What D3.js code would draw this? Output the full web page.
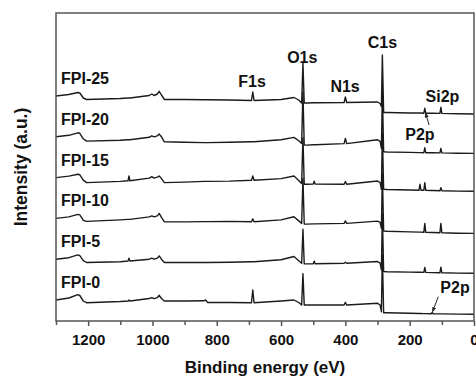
<!DOCTYPE html>
<html>
<head>
<meta charset="utf-8">
<script src="https://cdn.jsdelivr.net/npm/d3@7"></script>
<style>
  body { margin: 0; background: #fff; }
  svg { display: block; font-family: Arial, "Liberation Sans", sans-serif; }
</style>
</head>
<body>
<div id="chart"></div>
<script>
// binding energies (eV) shared by every spectrum
const energies = [1300, 1260, 1232, 1226, 1215, 1205, 1100, 1076, 1073, 1070,
  1010, 1002, 995, 985, 979, 972, 963, 900, 840, 835, 828, 760, 692, 688, 684,
  600, 560, 545, 536, 532, 528, 520, 500, 497, 494, 404, 400, 396, 300, 292,
  288, 285, 281, 270, 200, 171, 168, 165, 156, 153, 150, 133, 130, 127, 106,
  103, 100, 50, 0];

// intensities (a.u.) relative to each spectrum's own start, bottom to top
const sampleNames = ['FPI-0', 'FPI-5', 'FPI-10', 'FPI-15', 'FPI-20', 'FPI-25'];

const fpi0 = [0, 2, 5.3, 4.5, -1, -2.7, -1.5, -1, 0, -1,
  1.5, 2.3, 1.3, 2.3, 4.7, 1.5, -1, -1, -0.8, 0, -2.5, -2.5, -2.7, 10, -2.7,
  -1, 0, -2.5, -5, 26.4, -5, -5, -5, -5, -5, -5, -2.3, -5, -3.3, -5,
  -11.7, 45, -12.7, -12.8, -13.3, -13.5, -13.5, -13.5, -13.6, -13.6, -13.6, -13.7, -12.5, -13.7, -13.9,
  -13.9, -13.9, -14.1, -14.3];

const fpi5 = [0, 1.5, 4.3, 3.5, -1.5, -3.3, -2.5, -1.8, 1, -1.8,
  0, 1, 0, 1, 3.3, 0, -3.3, -3.3, -3.3, -3.3, -3.3, -3, -2.5, -2.5, -2.5,
  -0.5, 2.7, -1.5, -4, 30, -4.7, -4.7, -4.5, -2, -4.5, -4, -3, -4, -2.3, -4,
  -10.7, 45, -12.3, -12.5, -12.9, -13.1, -13.1, -13.1, -13.2, -8.3, -13.2, -13.4, -13.4, -13.4, -13.6,
  -8, -13.6, -13.9, -14];

const fpi10 = [0, 1.5, 4, 3.5, -2, -3, -1.5, -1, -1, -1,
  1.5, 2.5, 1.5, 2.5, 5, 1, -3.5, -3.5, -3.2, -3.2, -3.2, -3, -3.3, -0.5, -3.3,
  -1.5, 1.7, -2.5, -5, 40, -5.7, -5.7, -5.5, -5.5, -5.5, -5, -2.5, -5, -2.7, -4,
  -10, 45, -12.7, -12.9, -13.5, -13.7, -13.7, -13.7, -13.9, -5, -13.9, -14.1, -14.1, -14.1, -14.4,
  -5, -14.4, -14.8, -15];

const fpi15 = [0, 1.5, 3.3, 2.8, -2.5, -5, -3.8, -3.2, 1.6, -3.2,
  -0.5, 1, -0.5, 0.5, 1.6, -1, -5, -4.5, -3.8, -3.8, -3.8, -3.5, -2.7, 1.6, -2.7,
  -1, 1.6, -3, -6, 40, -6.7, -6.7, -6.5, -3.5, -6.5, -6.6, -4, -6.6, -3.4, -5,
  -11.7, 45, -11.7, -11.9, -12.4, -12.6, -6.7, -12.6, -12.7, -5, -12.7, -12.9, -12.9, -12.9, -13.2,
  -10, -13.2, -13.5, -13.7];

const fpi20 = [0, 1.5, 4, 3.5, -2, -4.3, -3.5, -3, -3, -3,
  -0.5, 1, 0, 1, 2.7, 0, -5, -5.5, -5.8, -5.8, -5.8, -5.5, -5, -5, -5,
  -3, -0.6, -4, -6.6, 45, -8.3, -8.3, -8, -8, -8, -6.8, -1.6, -6.8, -3, -4.5,
  -11.6, 45, -15, -15.2, -15.6, -15.8, -15.8, -15.8, -15.9, -11, -15.9, -16, -16, -16, -16.1,
  -11.6, -16.1, -16.4, -16.6];

const fpi25 = [0, 1.5, 3.5, 3, -2, -3.5, -2.5, -2, -2, -2,
  0.5, 2, 0.5, 2, 4.7, 1, -3.5, -3.5, -3.8, -3.8, -3.8, -4, -4.5, 4, -4.5,
  -3.5, -1.5, -4, -7, 33, -7, -7, -6.8, -6.8, -6.8, -6.5, -1, -6.5, -6, -7.5,
  -10.5, 41, -16.5, -16.5, -17, -17, -17, -17, -17.2, -12.3, -17.2, -17.3, -17.3, -17.3, -17.4,
  -11.3, -17.4, -17.8, -18];

const spectra = [fpi0, fpi5, fpi10, fpi15, fpi20, fpi25];

// peak annotations
const peakNames = ['C1s', 'O1s', 'F1s', 'N1s', 'Si2p', 'P2p', 'P2p'];
const peakEnergies = [285, 534, 690, 401, 98, 168, 59];

const xTicks = [1200, 1000, 800, 600, 400, 200, 0];
const xMinorTicks = [1300, 1100, 900, 700, 500, 300, 100];

const width = 476;
const height = 377;
const plot = { left: 56, right: 474, top: 13, bottom: 321 };
const stackBase = 21;
const stackStep = 40.8;

const x = d3.scaleLinear().domain([1300, 0]).range([plot.left, plot.right]);
const y = d3.scaleLinear().domain([0, 308]).range([plot.bottom, plot.top]);

const svg = d3.select('#chart')
  .append('svg')
  .attr('width', width)
  .attr('height', height);

svg.append('defs').append('clipPath')
  .attr('id', 'clip')
  .append('rect')
  .attr('x', plot.left)
  .attr('y', plot.top)
  .attr('width', plot.right - plot.left)
  .attr('height', plot.bottom - plot.top);

svg.select('defs').append('marker')
  .attr('id', 'arrow')
  .attr('viewBox', '0 0 10 10')
  .attr('refX', 9)
  .attr('refY', 5)
  .attr('markerWidth', 5)
  .attr('markerHeight', 5)
  .attr('orient', 'auto')
  .append('path')
  .attr('d', 'M0,1 L10,5 L0,9 Z')
  .attr('fill', '#222');

const line = d3.line()
  .x(d => x(d[0]))
  .y(d => y(d[1]));

// spectra, stacked
svg.append('g')
  .attr('clip-path', 'url(#clip)')
  .selectAll('path')
  .data(spectra)
  .enter().append('path')
  .attr('d', (vals, i) => line(energies.map((e, k) => [e, stackBase + i * stackStep + vals[k]])))
  .attr('fill', 'none')
  .attr('stroke', '#1b1b1b')
  .attr('stroke-width', 1.4)
  .attr('stroke-linejoin', 'round');

// sample labels
svg.append('g')
  .selectAll('text')
  .data(sampleNames)
  .enter().append('text')
  .attr('x', 61)
  .attr('y', (d, i) => y(stackBase + i * stackStep) - 12)
  .attr('font-size', 16)
  .attr('font-weight', 'bold')
  .attr('fill', '#111')
  .text(d => d);

// peak labels (baseline heights in a.u.)
const labelHeights = [272.7, 258.5, 234.3, 229.3, 219.3, 181, 27.7];
svg.append('g')
  .selectAll('text')
  .data(peakNames)
  .enter().append('text')
  .attr('x', (d, i) => x(peakEnergies[i]))
  .attr('y', (d, i) => y(labelHeights[i]))
  .attr('text-anchor', 'middle')
  .attr('font-size', 16)
  .attr('font-weight', 'bold')
  .attr('fill', '#111')
  .text(d => d);

// arrows pointing at the P2p positions
const arrows = [
  [[139.5, 196], [151, 208]],
  [[111, 24.3], [129, 9.3]]
];
svg.append('g')
  .selectAll('line')
  .data(arrows)
  .enter().append('line')
  .attr('x1', d => x(d[0][0]))
  .attr('y1', d => y(d[0][1]))
  .attr('x2', d => x(d[1][0]))
  .attr('y2', d => y(d[1][1]))
  .attr('stroke', '#222')
  .attr('stroke-width', 1)
  .attr('marker-end', 'url(#arrow)');

// frame
svg.append('rect')
  .attr('x', plot.left)
  .attr('y', plot.top)
  .attr('width', plot.right - plot.left)
  .attr('height', plot.bottom - plot.top)
  .attr('fill', 'none')
  .attr('stroke', '#555')
  .attr('stroke-width', 1.5);

// x axis
const xAxis = svg.append('g')
  .attr('transform', 'translate(0,' + plot.bottom + ')')
  .call(d3.axisBottom(x).tickValues(xTicks).tickSize(5).tickPadding(8).tickFormat(d3.format('d')));
xAxis.select('.domain').remove();
xAxis.selectAll('line').attr('stroke', '#555').attr('stroke-width', 1.5);
xAxis.selectAll('text')
  .attr('font-size', 15)
  .attr('font-weight', 'bold')
  .attr('font-family', 'Arial, "Liberation Sans", sans-serif')
  .attr('fill', '#111');

const xMinor = svg.append('g')
  .attr('transform', 'translate(0,' + plot.bottom + ')')
  .call(d3.axisBottom(x).tickValues(xMinorTicks).tickSize(4).tickFormat(''));
xMinor.select('.domain').remove();
xMinor.selectAll('line').attr('stroke', '#555').attr('stroke-width', 1.5);

// axis titles
svg.append('text')
  .attr('x', (plot.left + plot.right) / 2)
  .attr('y', 373)
  .attr('text-anchor', 'middle')
  .attr('font-size', 17)
  .attr('font-weight', 'bold')
  .attr('fill', '#111')
  .text('Binding energy (eV)');

svg.append('text')
  .attr('transform', 'translate(27,167) rotate(-90)')
  .attr('text-anchor', 'middle')
  .attr('font-size', 17.5)
  .attr('font-weight', 'bold')
  .attr('fill', '#111')
  .text('Intensity (a.u.)');
</script>
</body>
</html>
